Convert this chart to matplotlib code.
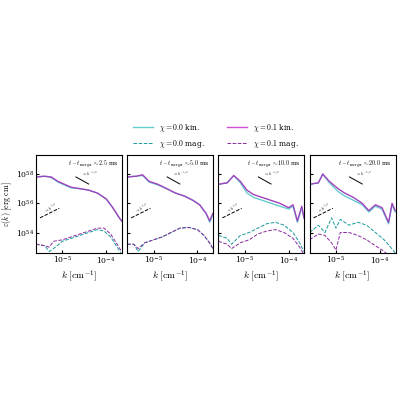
import numpy as np
import matplotlib
matplotlib.use("Agg")
import matplotlib.pyplot as plt
from matplotlib.lines import Line2D

plt.rcParams['mathtext.fontset'] = 'cm'
plt.rcParams['font.family'] = 'serif'

times = ["2.5", "5.0", "10.0", "20.0"]

lk1 = [-5.6, -5.4, -5.25, -5.1, -4.95, -4.8, -4.6, -4.4, -4.2, -4.0, -3.85, -3.7, -3.65]
k1_kin1 = [57.8, 57.85, 57.8, 57.5, 57.3, 57.1, 57.0, 56.9, 56.7, 56.3, 55.7, 55.0, 54.8]
k1_kin0 = [57.8, 57.85, 57.75, 57.45, 57.25, 57.05, 57.0, 56.9, 56.7, 56.3, 55.7, 55.0, 54.8]
lm1 = [-5.6, -5.4, -5.3, -5.2, -5.0, -4.8, -4.6, -4.4, -4.2, -4.05, -3.9, -3.75, -3.65]
m1_mag1 = [53.2, 53.1, 53.0, 53.4, 53.5, 53.7, 53.9, 54.1, 54.3, 54.3, 53.9, 53.2, 52.7]
m1_mag0 = [53.2, 53.1, 52.7, 52.9, 53.4, 53.6, 53.8, 54.0, 54.2, 54.1, 53.7, 53.0, 52.5]

lk2 = [-5.6, -5.4, -5.25, -5.1, -4.9, -4.7, -4.5, -4.3, -4.1, -3.95, -3.8, -3.72, -3.65]
k2_kin1 = [57.8, 57.85, 57.95, 57.5, 57.3, 57.0, 56.7, 56.5, 56.2, 55.9, 55.3, 54.8, 55.3]
k2_kin0 = [57.8, 57.85, 57.9, 57.45, 57.25, 57.0, 56.7, 56.5, 56.2, 55.9, 55.3, 54.7, 55.2]
lm2 = [-5.6, -5.45, -5.35, -5.2, -5.0, -4.8, -4.6, -4.4, -4.2, -4.0, -3.85, -3.7, -3.65]
m2_mag1 = [53.2, 53.2, 52.9, 53.3, 53.5, 53.7, 54.0, 54.3, 54.35, 54.2, 53.8, 53.2, 52.9]
m2_mag0 = [53.2, 53.2, 52.7, 53.3, 53.5, 53.7, 54.0, 54.3, 54.35, 54.2, 53.8, 53.2, 52.9]

lk3 = [-5.6, -5.4, -5.25, -5.1, -4.95, -4.8, -4.6, -4.4, -4.2, -4.0, -3.9, -3.8, -3.7, -3.65]
k3_kin1 = [57.3, 57.4, 57.9, 57.5, 56.9, 56.6, 56.4, 56.2, 56.0, 55.7, 55.9, 54.8, 55.8, 55.0]
k3_kin0 = [57.3, 57.4, 57.9, 57.4, 56.7, 56.4, 56.2, 56.0, 55.8, 55.6, 55.8, 54.7, 55.7, 55.0]
lm3 = [-5.6, -5.4, -5.3, -5.1, -4.9, -4.7, -4.5, -4.3, -4.1, -3.9, -3.75, -3.65]
m3_mag0 = [53.8, 53.6, 53.2, 53.8, 54.0, 54.3, 54.6, 54.7, 54.5, 54.0, 53.3, 52.7]
m3_mag1 = [53.4, 53.2, 52.9, 53.3, 53.5, 53.9, 54.1, 54.2, 54.0, 53.6, 53.0, 52.5]

lk4 = [-5.6, -5.4, -5.3, -5.15, -4.95, -4.8, -4.6, -4.4, -4.25, -4.1, -3.95, -3.8, -3.72, -3.65]
k4_kin1 = [57.3, 57.4, 58.0, 57.5, 57.0, 56.7, 56.4, 56.0, 55.5, 55.9, 55.7, 54.7, 56.0, 55.5]
k4_kin0 = [57.3, 57.4, 58.0, 57.4, 56.8, 56.5, 56.2, 55.9, 55.4, 55.8, 55.6, 54.6, 55.9, 55.4]
lm4 = [-5.6, -5.4, -5.25, -5.1, -5.0, -4.9, -4.7, -4.5, -4.3, -4.1, -3.9, -3.7, -3.65]
m4_mag0 = [54.0, 54.5, 54.0, 55.0, 54.3, 54.9, 54.5, 54.7, 54.5, 54.0, 53.5, 52.8, 52.6]
m4_mag1 = [53.5, 53.9, 53.8, 53.3, 52.8, 54.0, 54.0, 53.8, 53.5, 53.1, 52.7, 52.2, 52.0]

panels = [
    (lk1, k1_kin0, k1_kin1, lm1, m1_mag0, m1_mag1),
    (lk2, k2_kin0, k2_kin1, lm2, m2_mag0, m2_mag1),
    (lk3, k3_kin0, k3_kin1, lm3, m3_mag0, m3_mag1),
    (lk4, k4_kin0, k4_kin1, lm4, m4_mag0, m4_mag1),
]

c0_kin = '#66cccc'
c0_mag = '#1a9a9a'
c1_kin = '#d050d0'
c1_mag = '#8a2aa0'

fig = plt.figure(figsize=(4, 4), dpi=100)
lefts = [0.09, 0.318, 0.546, 0.774]
axes = []
for i, (lk, k0, k1, lm, m0, m1) in enumerate(panels):
    ax = fig.add_axes([lefts[i], 0.3675, 0.215, 0.245], sharey=axes[0] if axes else None)
    axes.append(ax)
    kk = 10 ** np.array(lk)
    km = 10 ** np.array(lm)
    ax.plot(kk, 10 ** np.array(k0), color=c0_kin, lw=1.0)
    ax.plot(kk, 10 ** np.array(k1), color=c1_kin, lw=1.0)
    ax.plot(kk, 10 ** np.array(k1) * 0.97, color='#4040a0', lw=0.5, alpha=0.6)
    ax.plot(km, 10 ** np.array(m0), color=c0_mag, lw=0.7, ls='--')
    ax.plot(km, 10 ** np.array(m1), color=c1_mag, lw=0.7, ls='--')
    ax.set_xscale('log')
    ax.set_yscale('log')
    ax.set_xlim(10 ** -5.6, 10 ** -3.64)
    ax.set_ylim(10 ** 52.6, 10 ** 59.3)
    xs = np.array([10 ** -4.69, 10 ** -4.4])
    ax.plot(xs, 10 ** 57.8 * (xs / xs[0]) ** (-5 / 3), color='k', lw=0.7)
    ax.text(10 ** -4.55, 10 ** 57.85, r'$\propto k^{-5/3}$', fontsize=3)
    xs2 = np.array([10 ** -5.51, 10 ** -5.07])
    ax.plot(xs2, 10 ** 55.0 * (xs2 / xs2[0]) ** 1.5, color='k', lw=0.7, ls='--')
    ax.text(10 ** -5.45, 10 ** 55.35, r'$\propto k^{3/2}$', fontsize=3, rotation=28)
    ax.text(0.96, 0.96, r'$t - t_{\rm merger} \approx %s$ ms' % times[i],
            transform=ax.transAxes, ha='right', va='top', fontsize=4.3)
    ax.set_yticks([1e54, 1e56, 1e58])
    ax.minorticks_off()
    ax.set_xticks([1e-5, 1e-4])
    ax.tick_params(labelsize=5.5, length=2, direction='in', pad=1.5)
    ax.set_xlabel(r'$k\ [\mathrm{cm}^{-1}]$', fontsize=7, labelpad=1)
    if i > 0:
        ax.tick_params(labelleft=False)
axes[0].set_ylabel(r'$\varepsilon(k)\ [\mathrm{erg\ cm}]$', fontsize=5.8, labelpad=1)

handles = [Line2D([], [], color=c0_kin, lw=1.0), Line2D([], [], color=c0_mag, lw=0.7, ls='--'),
           Line2D([], [], color=c1_kin, lw=1.0), Line2D([], [], color=c1_mag, lw=0.7, ls='--')]
labels = [r'$\chi = 0.0$ kin.', r'$\chi = 0.0$ mag.', r'$\chi = 0.1$ kin.', r'$\chi = 0.1$ mag.']
fig.legend(handles, labels, ncol=2, loc='center', bbox_to_anchor=(0.54, 0.66),
           fontsize=5.5, frameon=False, handlelength=2.5, columnspacing=3)
fig.savefig('out.png', dpi=100)
